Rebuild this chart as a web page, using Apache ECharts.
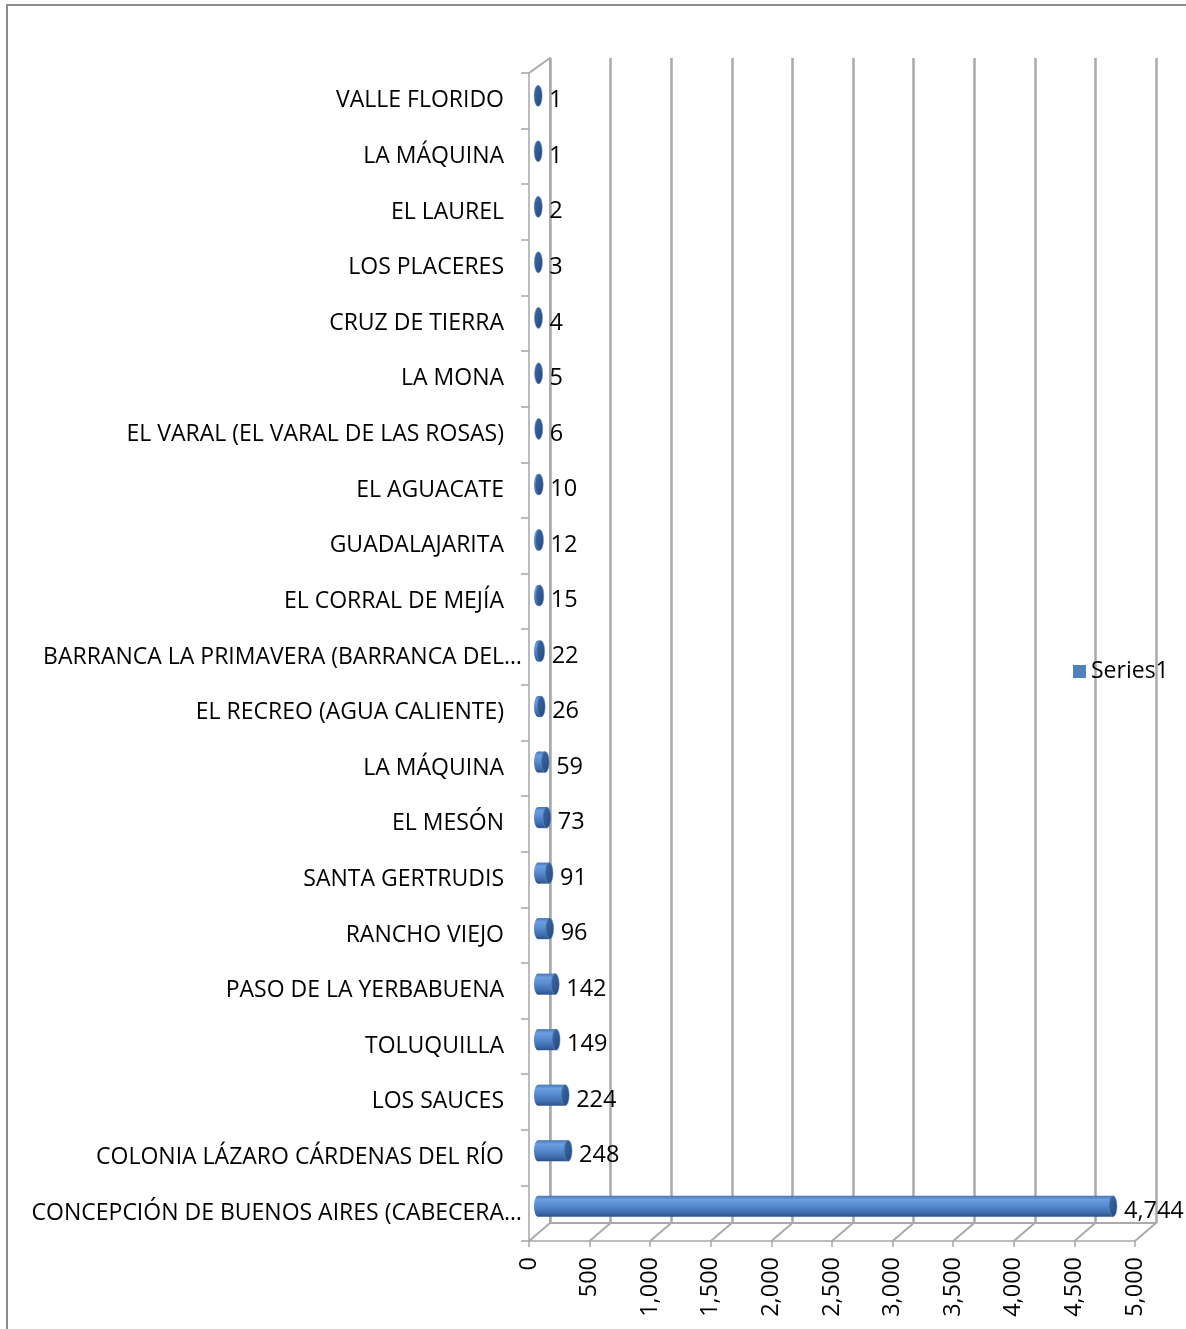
<!DOCTYPE html>
<html>
<head>
<meta charset="utf-8">
<title>Localidades</title>
<script src="https://cdn.jsdelivr.net/npm/echarts@6/dist/echarts.min.js"></script>
<style>
  html, body { margin: 0; padding: 0; background: #ffffff; }
  #chart { width: 1186px; height: 1329px; }
</style>
</head>
<body>
<div id="chart"></div>
<script>
// Localities, listed top to bottom as they appear on the category axis
const categories = [
  'VALLE FLORIDO',
  'LA MÁQUINA',
  'EL LAUREL',
  'LOS PLACERES',
  'CRUZ DE TIERRA',
  'LA MONA',
  'EL VARAL (EL VARAL DE LAS ROSAS)',
  'EL AGUACATE',
  'GUADALAJARITA',
  'EL CORRAL DE MEJÍA',
  'BARRANCA LA PRIMAVERA (BARRANCA DEL…',
  'EL RECREO (AGUA CALIENTE)',
  'LA MÁQUINA',
  'EL MESÓN',
  'SANTA GERTRUDIS',
  'RANCHO VIEJO',
  'PASO DE LA YERBABUENA',
  'TOLUQUILLA',
  'LOS SAUCES',
  'COLONIA LÁZARO CÁRDENAS DEL RÍO',
  'CONCEPCIÓN DE BUENOS AIRES (CABECERA…'
];
const series1 = [1, 1, 2, 3, 4, 5, 6, 10, 12, 15, 22, 26, 59, 73, 91, 96, 142, 149, 224, 248, 4744];
const valueTicks = [0, 500, 1000, 1500, 2000, 2500, 3000, 3500, 4000, 4500, 5000];

const FONT = '"Open Sans", Lato, sans-serif';
const GRID_GRAY = '#a9a9a9';
const AXIS_GRAY = '#a6a6a6';

const chart = echarts.init(document.getElementById('chart'), null, { renderer: 'canvas' });

// body gradient of a horizontal cylinder
const bodyFill = new echarts.graphic.LinearGradient(0, 0, 0, 1, [
  { offset: 0, color: '#4676b4' },
  { offset: 0.18, color: '#6c9ee0' },
  { offset: 0.45, color: '#5a8dd1' },
  { offset: 0.8, color: '#3e6dad' },
  { offset: 1, color: '#2b528a' }
]);
const capFill = new echarts.graphic.LinearGradient(0, 0, 1, 1, [
  { offset: 0, color: '#3f6ca8' },
  { offset: 1, color: '#24467a' }
]);

function renderCylinder(params, api) {
  const v = api.value(0);
  const idx = api.value(1);
  const start = api.coord([0, idx]);
  const end = api.coord([v, idx]);
  const h = api.size([0, 1])[1] * 0.38;
  const r = h / 2;
  const rx = 4;
  const children = [];
  if (end[0] - start[0] > 1) {
    children.push({
      type: 'circle',
      shape: { cx: 0, cy: 0, r: r },
      x: start[0], y: start[1], scaleX: rx / r,
      style: { fill: bodyFill }
    });
    children.push({
      type: 'rect',
      shape: { x: start[0], y: start[1] - r, width: end[0] - start[0], height: h },
      style: { fill: bodyFill }
    });
  }
  children.push({
    type: 'circle',
    shape: { cx: 0, cy: 0, r: r },
    x: end[0], y: end[1], scaleX: rx / r,
    style: { fill: capFill, stroke: '#5f8fcf', lineWidth: 0.8 }
  });
  children.push({
    type: 'text',
    x: end[0] + rx + 7, y: end[1] + 5,
    style: {
      text: v.toLocaleString('en-US'),
      font: '23.5px ' + FONT,
      fill: '#000000',
      align: 'left',
      verticalAlign: 'middle'
    }
  });
  return { type: 'group', children: children };
}

// depth lines joining the front floor edge to the back wall
function renderFloor(params, api) {
  const v = api.value(0);
  const cs = params.coordSys;
  const x = api.coord([v, 0])[0];
  const yb = cs.y + cs.height;
  const children = [{
    type: 'line',
    shape: { x1: x, y1: yb, x2: x + 21, y2: yb - 18 },
    style: { stroke: GRID_GRAY, lineWidth: 2 }
  }];
  if (v === 0) {
    children.push({
      type: 'line',
      shape: { x1: x, y1: cs.y, x2: x + 21, y2: cs.y - 15 },
      style: { stroke: GRID_GRAY, lineWidth: 2 }
    });
  }
  return { type: 'group', children: children };
}

const hiddenCat = {
  type: 'category', data: categories, inverse: true,
  axisLabel: { show: false }, axisTick: { show: false }
};

// shortened names run a little closer to the axis
const frontCategories = categories.map(name =>
  name.endsWith('…') ? { value: name, textStyle: { padding: [6, -18, 0, 0] } } : name
);

const option = {
  animation: false,
  backgroundColor: '#ffffff',
  textStyle: { fontFamily: FONT },
  graphic: [{
    type: 'rect',
    shape: { x: 7, y: 5, width: 1300, height: 1400 },
    style: { fill: 'none', stroke: '#8c8c8c', lineWidth: 2 },
    silent: true
  }],
  legend: {
    data: [{ name: 'Series1', icon: 'rect' }],
    left: 1068, top: 655,
    itemWidth: 13, itemHeight: 13, itemGap: 6,
    textStyle: { fontSize: 23, color: '#000000', fontFamily: FONT }
  },
  grid: [
    // back wall
    { left: 550, top: 58, width: 606, height: 1165 },
    // front edges with axes and labels
    { left: 529, top: 73, width: 606, height: 1168 },
    // mid depth where the cylinders sit
    { left: 538, top: 68, width: 606, height: 1166 }
  ],
  xAxis: [
    {
      gridIndex: 0, type: 'value', min: 0, max: 5000, interval: 500,
      axisLine: { show: true, lineStyle: { color: GRID_GRAY, width: 2 } },
      axisTick: { show: false }, axisLabel: { show: false },
      splitLine: { show: true, lineStyle: { color: GRID_GRAY, width: 2.5 } }
    },
    {
      gridIndex: 1, type: 'value', min: 0, max: 5000, interval: 500,
      axisLine: { show: true, onZero: false, lineStyle: { color: AXIS_GRAY, width: 1.5 } },
      axisTick: { show: true, length: 6, lineStyle: { color: AXIS_GRAY, width: 1.5 } },
      axisLabel: {
        rotate: 90, margin: 16, fontSize: 23.5, color: '#000000', fontFamily: FONT,
        formatter: v => v.toLocaleString('en-US')
      },
      splitLine: { show: false }
    },
    {
      gridIndex: 2, type: 'value', min: 0, max: 5000, interval: 500,
      axisLine: { show: false }, axisTick: { show: false },
      axisLabel: { show: false }, splitLine: { show: false }
    }
  ],
  yAxis: [
    Object.assign({ gridIndex: 0 }, hiddenCat, {
      axisLine: { show: true, lineStyle: { color: GRID_GRAY, width: 2 } }
    }),
    {
      gridIndex: 1, type: 'category', data: frontCategories, inverse: true,
      axisLine: { show: true, lineStyle: { color: AXIS_GRAY, width: 1.5 } },
      axisTick: { show: true, length: 8, lineStyle: { color: AXIS_GRAY, width: 1.5 } },
      axisLabel: {
        margin: 25, fontSize: 23, color: '#000000', fontFamily: FONT, interval: 0,
        padding: [6, 0, 0, 0]
      }
    },
    Object.assign({ gridIndex: 2 }, hiddenCat, { axisLine: { show: false } })
  ],
  series: [
    {
      type: 'custom', name: 'floor', xAxisIndex: 1, yAxisIndex: 1,
      renderItem: renderFloor, silent: true,
      data: valueTicks.map(v => [v, 0]),
      encode: { x: 0, y: 1 }
    },
    {
      type: 'custom', name: 'Series1', xAxisIndex: 2, yAxisIndex: 2,
      renderItem: renderCylinder,
      itemStyle: { color: '#4F81BD' },
      data: series1.map((v, i) => [v, i]),
      encode: { x: 0, y: 1 }
    }
  ]
};

chart.setOption(option);
</script>
</body>
</html>
